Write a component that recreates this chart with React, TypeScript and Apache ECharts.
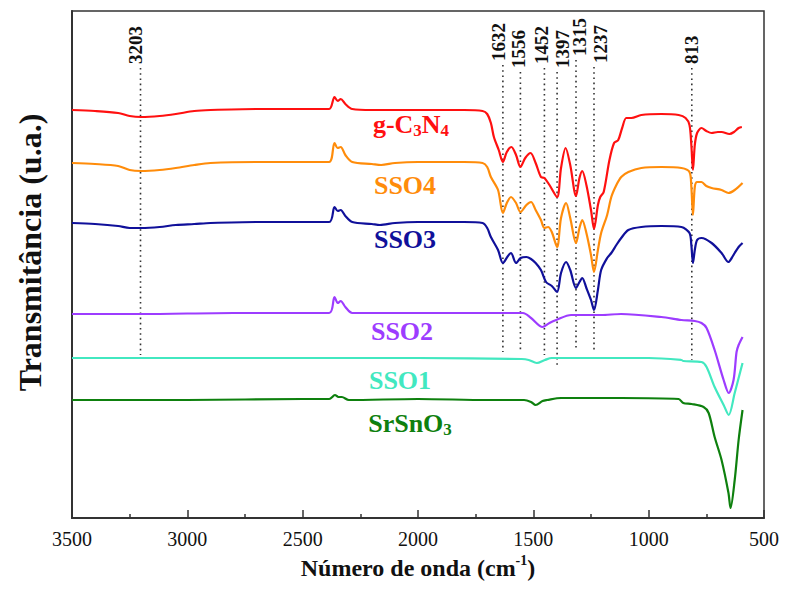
import React, { useEffect, useRef } from "react";
import * as echarts from "echarts";

// [wavenumber (cm-1), transmittance (a.u., offset stacked)]
const gC3N4: [number, number][] = [
  [3500, 408], [3400, 407], [3300, 405], [3250, 402], [3200, 401], [3120, 402], [3050, 404], [2970, 407],
  [2900, 408], [2700, 409], [2500, 409], [2385, 409], [2362, 421], [2348, 417], [2335, 419], [2315, 414],
  [2285, 409], [2200, 408], [2000, 408], [1800, 408], [1720, 407], [1700, 404], [1684, 395], [1671, 381],
  [1650, 368], [1632, 356], [1615, 366], [1595, 371], [1575, 363], [1556, 351], [1535, 360], [1512, 365],
  [1490, 355], [1467, 341], [1452, 340], [1430, 333], [1397, 321], [1380, 350], [1360, 370], [1340, 353],
  [1315, 322], [1300, 340], [1288, 347], [1270, 333], [1250, 308], [1237, 289], [1220, 313], [1210, 321],
  [1195, 326], [1170, 358], [1150, 375], [1132, 378], [1115, 390], [1097, 400], [1075, 400], [1032, 403],
  [945, 404], [870, 403], [840, 400], [823, 393], [815, 373], [808, 348], [800, 373], [790, 385],
  [771, 390], [750, 387], [727, 385], [700, 386], [684, 386], [650, 384], [630, 386], [610, 390], [596, 391],
];

const sso4: [number, number][] = [
  [3500, 355], [3400, 354], [3300, 352], [3250, 348], [3200, 347], [3120, 348], [3050, 350], [2970, 353],
  [2900, 355], [2700, 356], [2500, 356], [2385, 356], [2362, 375], [2348, 370], [2335, 371], [2315, 363],
  [2285, 356], [2200, 354], [2160, 353], [2100, 355], [2000, 356], [1800, 356], [1720, 355], [1700, 351],
  [1684, 341], [1653, 328], [1632, 305], [1615, 315], [1597, 321], [1575, 315], [1556, 306], [1530, 313],
  [1510, 316], [1490, 308], [1467, 298], [1452, 290], [1436, 291], [1420, 286], [1397, 271], [1380, 300],
  [1358, 315], [1340, 300], [1315, 275], [1300, 290], [1288, 298], [1270, 285], [1250, 263], [1237, 246],
  [1220, 268], [1206, 285], [1180, 303], [1162, 321], [1140, 333], [1119, 341], [1088, 346], [1032, 350],
  [945, 351], [858, 350], [823, 346], [815, 331], [808, 303], [800, 331], [790, 336], [771, 336],
  [750, 332], [727, 330], [684, 328], [654, 325], [627, 328], [593, 335],
];

const sso3: [number, number][] = [
  [3500, 295], [3400, 294], [3300, 292], [3250, 290], [3200, 290], [3120, 291], [3050, 293], [2970, 294],
  [2900, 295], [2700, 296], [2385, 296], [2362, 311], [2348, 307], [2335, 308], [2315, 302], [2285, 296],
  [2200, 294], [2165, 293], [2100, 295], [2000, 296], [1800, 296], [1720, 295], [1700, 290], [1684, 281],
  [1653, 268], [1632, 255], [1610, 262], [1597, 265], [1575, 255], [1555, 260], [1530, 261], [1510, 259],
  [1490, 255], [1467, 248], [1445, 236], [1420, 232], [1397, 226], [1380, 245], [1358, 256], [1340, 248],
  [1315, 230], [1300, 236], [1288, 240], [1270, 230], [1250, 218], [1237, 208], [1220, 228], [1206, 248],
  [1180, 260], [1162, 265], [1140, 273], [1119, 280], [1088, 288], [1032, 291], [945, 292], [858, 291],
  [823, 285], [815, 273], [808, 255], [800, 268], [790, 278], [771, 280], [727, 275], [684, 265],
  [654, 256], [640, 260], [627, 265], [610, 271], [593, 275],
];

const sso2: [number, number][] = [
  [3500, 204], [3200, 204], [2800, 205], [2385, 205], [2362, 221], [2348, 215], [2335, 217], [2315, 211],
  [2285, 205], [2000, 205], [1700, 205], [1545, 205], [1510, 200], [1460, 191], [1430, 195], [1401, 198],
  [1336, 203], [1206, 203], [1119, 204], [945, 201], [858, 198], [800, 197], [771, 195], [749, 190],
  [714, 168], [675, 138], [653, 125], [632, 138], [619, 166], [610, 173], [593, 181],
];

const sso1: [number, number][] = [
  [3500, 160], [3000, 160], [2500, 160], [2000, 160], [1550, 159], [1520, 158], [1485, 155], [1450, 158],
  [1420, 160], [1000, 160], [858, 158], [850, 157], [771, 156], [749, 151], [714, 131], [675, 113],
  [653, 103], [627, 125], [610, 140], [593, 155],
];

const srSnO3: [number, number][] = [
  [3500, 118], [3000, 118], [2500, 119], [2385, 119], [2360, 123], [2345, 121], [2330, 121], [2300, 118],
  [2000, 119], [1700, 118], [1540, 118], [1510, 116], [1490, 113], [1460, 117], [1440, 118], [1380, 120],
  [1119, 120], [870, 119], [850, 115], [814, 114], [762, 111], [740, 105], [714, 81], [684, 58],
  [654, 25], [645, 10], [627, 38], [610, 78], [593, 108],
];

// Marked bands: wavenumber, top and bottom of the dotted guide (same a.u. scale)
const peakWavenumbers = [3203, 1632, 1556, 1452, 1397, 1315, 1237, 813];
const peakTop = [450, 453, 446, 450, 446, 458, 451, 450];
const peakBottom = [163, 166, 166, 163, 153, 168, 165, 158];
const peakLabelDx = [-5, -4, -2, -3, 5, 3, 7, 0];

const seriesNames = ["g-C3N4", "SSO4", "SSO3", "SSO2", "SSO1", "SrSnO3"];
const seriesData = [gC3N4, sso4, sso3, sso2, sso1, srSnO3];
const seriesColors = ["#ff1010", "#ff8c0a", "#10109a", "#9d3cff", "#42e8c0", "#0e800e"];

const FONT = "Liberation Serif, Times New Roman, serif";

const labelTexts = [
  "{a|g-C}{s|3}{a|N}{s|4}",
  "{a|SSO4}",
  "{a|SSO3}",
  "{a|SSO2}",
  "{a|SSO1}",
  "{a|SrSnO}{s|3}",
];
const labelPos = [
  [411, 124],
  [405, 185],
  [405, 239],
  [402, 331],
  [400, 380],
  [410, 423],
];

export default function App() {
  const ref = useRef<HTMLDivElement>(null);

  useEffect(() => {
    if (!ref.current) return;
    const chart = echarts.init(ref.current, null, { renderer: "svg" });

    const lineSeries = seriesData.map((d, i) => ({
      name: seriesNames[i],
      type: "line",
      data: d,
      showSymbol: false,
      smooth: 0.3,
      lineStyle: { color: seriesColors[i], width: 2.2 },
      itemStyle: { color: seriesColors[i] },
      z: 3,
      silent: true,
    }));

    const peakSeries = {
      type: "custom",
      silent: true,
      clip: false,
      z: 1,
      data: peakWavenumbers.map((w, i) => [w, peakTop[i], peakBottom[i]]),
      encode: { x: 0, y: 1 },
      renderItem: (params: any, api: any) => {
        const i = params.dataIndex;
        const w = api.value(0);
        const top = api.coord([w, api.value(1)]);
        const bot = api.coord([w, api.value(2)]);
        return {
          type: "group",
          children: [
            {
              type: "line",
              shape: { x1: top[0], y1: top[1], x2: bot[0], y2: bot[1] },
              style: { stroke: "#333", lineWidth: 1.6, lineDash: [1.6, 3.6] },
            },
            {
              type: "text",
              x: top[0] + peakLabelDx[i],
              y: top[1] - 4,
              rotation: Math.PI / 2,
              style: {
                text: String(peakWavenumbers[i]),
                fill: "#111",
                fontFamily: FONT,
                fontWeight: "bold",
                fontSize: 19,
                align: "left",
                verticalAlign: "middle",
              },
            },
          ],
        };
      },
    };

    const graphics = labelTexts.map((t, i) => ({
      type: "text",
      x: labelPos[i][0],
      y: labelPos[i][1],
      silent: true,
      style: {
        text: t,
        align: "center",
        verticalAlign: "middle",
        rich: {
          a: {
            fontFamily: FONT,
            fontWeight: "bold",
            fontSize: 26,
            lineHeight: 30,
            fill: seriesColors[i],
            color: seriesColors[i],
          },
          s: {
            fontFamily: FONT,
            fontWeight: "bold",
            fontSize: 17,
            lineHeight: 17,
            verticalAlign: "bottom",
            fill: seriesColors[i],
            color: seriesColors[i],
          },
        },
      },
    }));

    chart.setOption({
      animation: false,
      backgroundColor: "#ffffff",
      grid: {
        left: 72,
        right: 22,
        top: 11,
        bottom: 85,
        show: true,
        borderColor: "#333",
        borderWidth: 1.5,
        backgroundColor: "transparent",
      },
      xAxis: {
        type: "value",
        min: 500,
        max: 3500,
        interval: 500,
        inverse: true,
        name: "{n|Número de onda (cm}{s|-1}{n|)}",
        nameLocation: "middle",
        nameGap: 33,
        nameTextStyle: {
          rich: {
            n: { fontFamily: FONT, fontWeight: "bold", fontSize: 24, color: "#111", lineHeight: 28 },
            s: { fontFamily: FONT, fontWeight: "bold", fontSize: 14, color: "#111", verticalAlign: "top", lineHeight: 14 },
          },
        },
        axisLine: { onZero: false, lineStyle: { color: "#333", width: 2 } },
        axisTick: { inside: true, length: 8, lineStyle: { color: "#333", width: 1.5 } },
        minorTick: { show: true, splitNumber: 2, length: 4, lineStyle: { color: "#333", width: 1.5 } },
        axisLabel: {
          fontFamily: FONT,
          fontSize: 20,
          color: "#111",
          margin: 11,
          formatter: (v: number) => String(v),
        },
        splitLine: { show: false },
      },
      yAxis: {
        type: "value",
        min: 0,
        max: 507,
        name: "Transmitância (u.a.)",
        nameLocation: "middle",
        nameGap: 26,
        nameTextStyle: {
          fontFamily: FONT,
          fontWeight: "bold",
          fontSize: 32,
          color: "#111",
          padding: [0, 0, 0, 24],
        },
        axisLine: { show: true, onZero: false, lineStyle: { color: "#333", width: 2 } },
        axisTick: { show: false },
        axisLabel: { show: false },
        splitLine: { show: false },
      },
      series: [peakSeries, ...lineSeries],
      graphic: graphics,
    });

    return () => chart.dispose();
  }, []);

  return (
    <div
      ref={ref}
      style={{ position: "fixed", left: 0, top: 0, width: 786, height: 603, background: "#fff" }}
    />
  );
}
